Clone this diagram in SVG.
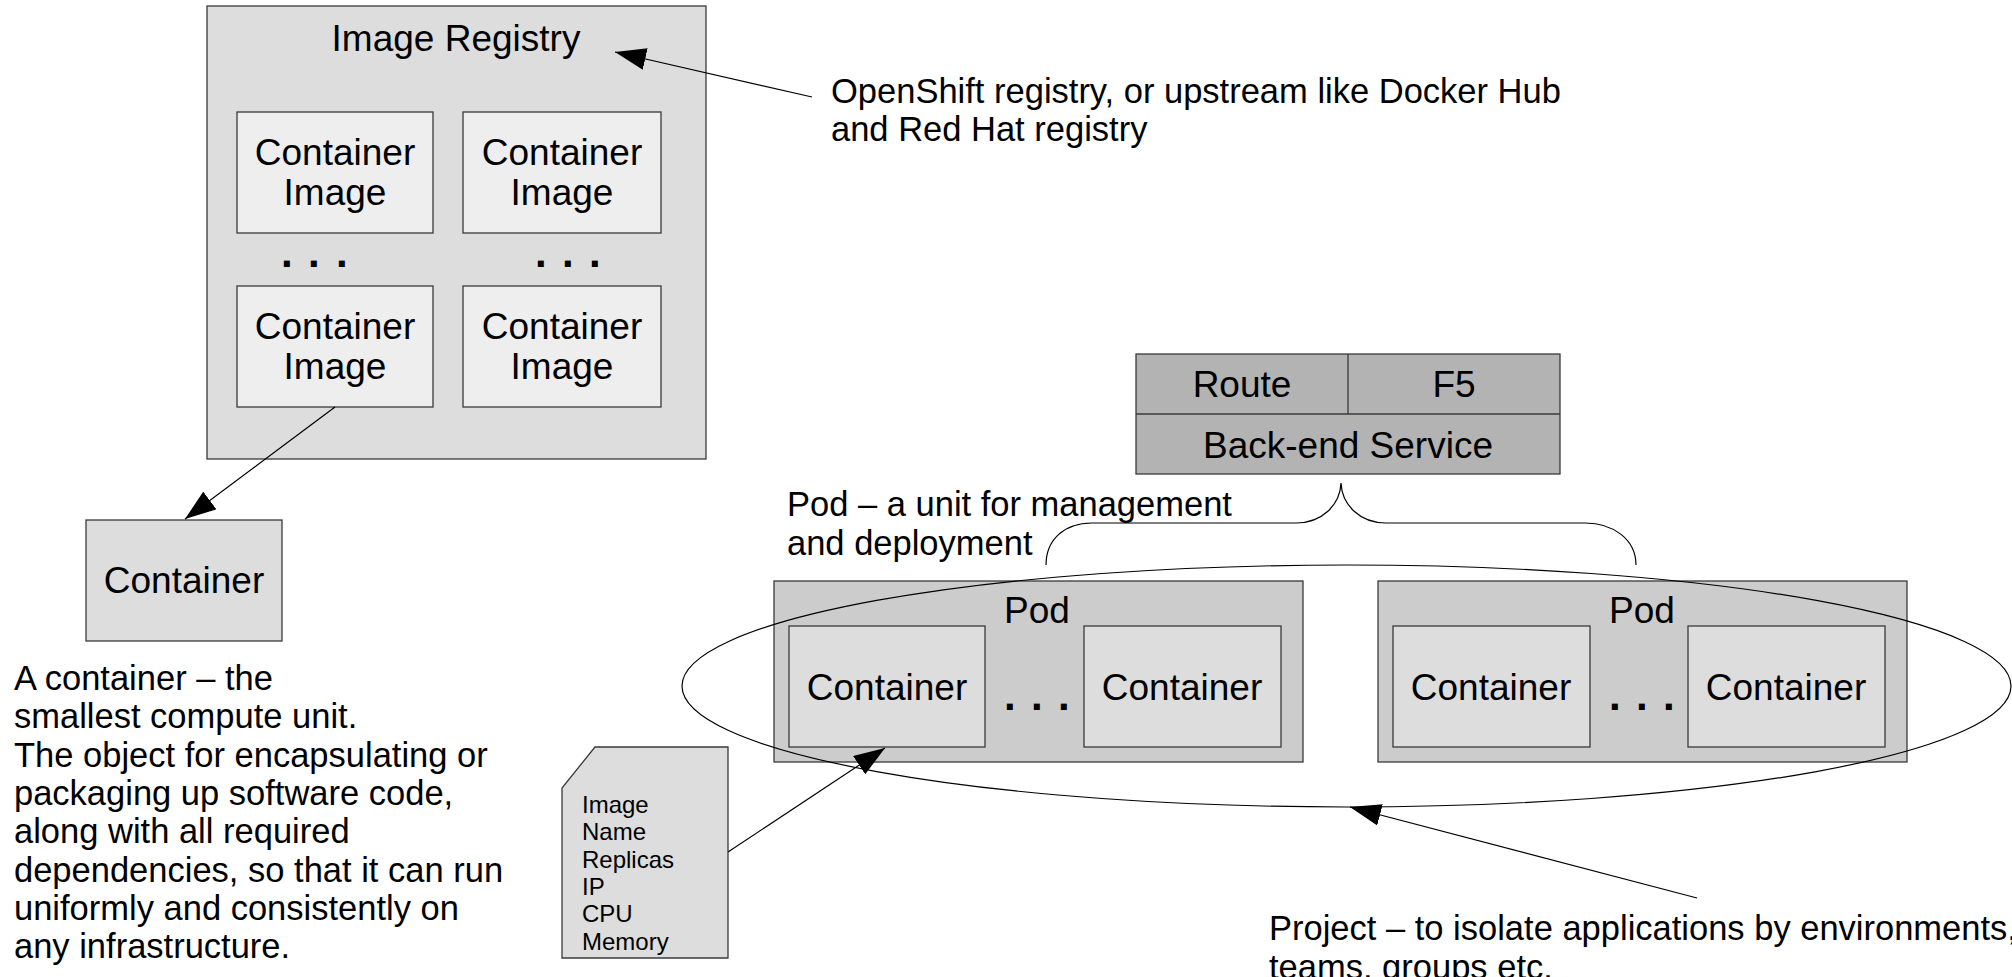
<svg xmlns="http://www.w3.org/2000/svg" width="2012" height="977" viewBox="0 0 2012 977">
  <style>
    text { font-family: "Liberation Sans", Arial, sans-serif; fill: #000; }
    .lbl { font-size: 37px; text-anchor: middle; }
    .desc { font-size: 34.5px; }
    .note { font-size: 24px; }
    .dots { font-size: 42px; font-weight: bold; }
    .box { stroke: #3a3a3a; stroke-width: 1.3; }
    .reg { fill: #dddddd; }
    .img { fill: #eeeeee; }
    .ctr { fill: #dddddd; }
    .pod { fill: #cccccc; }
    .svc { fill: #b3b3b3; }
    .wire { fill: none; stroke: #000; stroke-width: 1.2; }
    .arrow { marker-end: url(#head); }
  </style>
  <defs>
    <marker id="head" markerUnits="userSpaceOnUse" markerWidth="32" markerHeight="22" refX="31" refY="11" orient="auto">
      <path d="M0,0 L31,11 L0,22 z" fill="#000"/>
    </marker>
  </defs>

  <rect width="2012" height="977" fill="#ffffff"/>

  <!-- Image registry with its container images -->
  <g id="image-registry">
    <rect class="box reg" x="207" y="6" width="499" height="453"/>
    <text class="lbl" x="456" y="51">Image Registry</text>
  </g>
  <g id="container-image-1">
    <rect class="box img" x="237" y="112" width="196" height="121"/>
    <text class="lbl" x="335" y="165">Container</text>
    <text class="lbl" x="335" y="205">Image</text>
  </g>
  <g id="container-image-2">
    <rect class="box img" x="463" y="112" width="198" height="121"/>
    <text class="lbl" x="562" y="165">Container</text>
    <text class="lbl" x="562" y="205">Image</text>
  </g>
  <g id="registry-dots">
    <text class="dots" x="281 308 336" y="267">...</text>
    <text class="dots" x="535 562 589" y="267">...</text>
  </g>
  <g id="container-image-3">
    <rect class="box img" x="237" y="286" width="196" height="121"/>
    <text class="lbl" x="335" y="339">Container</text>
    <text class="lbl" x="335" y="379">Image</text>
  </g>
  <g id="container-image-4">
    <rect class="box img" x="463" y="286" width="198" height="121"/>
    <text class="lbl" x="562" y="339">Container</text>
    <text class="lbl" x="562" y="379">Image</text>
  </g>

  <g id="registry-note">
    <text class="desc" x="831" y="103">OpenShift registry, or upstream like Docker Hub</text>
    <text class="desc" x="831" y="141">and Red Hat registry</text>
  </g>

  <!-- Single container and its description -->
  <g id="container">
    <rect class="box ctr" x="86" y="520" width="196" height="121"/>
    <text class="lbl" x="184" y="593">Container</text>
  </g>
  <g id="container-note">
    <text class="desc" x="14" y="690">A container – the</text>
    <text class="desc" x="14" y="728">smallest compute unit.</text>
    <text class="desc" x="14" y="767">The object for encapsulating or</text>
    <text class="desc" x="14" y="805">packaging up software code,</text>
    <text class="desc" x="14" y="843">along with all required</text>
    <text class="desc" x="14" y="882">dependencies, so that it can run</text>
    <text class="desc" x="14" y="920">uniformly and consistently on</text>
    <text class="desc" x="14" y="958">any infrastructure.</text>
  </g>

  <!-- Pod spec sheet -->
  <g id="pod-spec">
    <path class="box ctr" d="M595,747 L728,747 L728,958 L562,958 L562,788 Z"/>
    <text class="note" x="582" y="813">Image</text>
    <text class="note" x="582" y="840">Name</text>
    <text class="note" x="582" y="868">Replicas</text>
    <text class="note" x="582" y="895">IP</text>
    <text class="note" x="582" y="922">CPU</text>
    <text class="note" x="582" y="950">Memory</text>
  </g>

  <!-- Route / F5 in front of the back-end service -->
  <g id="service">
    <rect class="box svc" x="1136" y="354" width="424" height="120"/>
    <line class="box" x1="1136" y1="414" x2="1560" y2="414"/>
    <line class="box" x1="1348" y1="354" x2="1348" y2="414"/>
    <text class="lbl" x="1242" y="397">Route</text>
    <text class="lbl" x="1454" y="397">F5</text>
    <text class="lbl" x="1348" y="458">Back-end Service</text>
  </g>

  <g id="pod-note">
    <text class="desc" x="787" y="516">Pod – a unit for management</text>
    <text class="desc" x="787" y="555">and deployment</text>
  </g>

  <!-- Pods -->
  <g id="pod-1">
    <rect class="box pod" x="774" y="581" width="529" height="181"/>
    <text class="lbl" x="1037" y="623">Pod</text>
    <rect class="box ctr" x="789" y="626" width="196" height="121"/>
    <text class="lbl" x="887" y="700">Container</text>
    <text class="dots" x="1004 1031 1058" y="710">...</text>
    <rect class="box ctr" x="1084" y="626" width="197" height="121"/>
    <text class="lbl" x="1182" y="700">Container</text>
  </g>
  <g id="pod-2">
    <rect class="box pod" x="1378" y="581" width="529" height="181"/>
    <text class="lbl" x="1642" y="623">Pod</text>
    <rect class="box ctr" x="1393" y="626" width="197" height="121"/>
    <text class="lbl" x="1491" y="700">Container</text>
    <text class="dots" x="1609 1636 1663" y="710">...</text>
    <rect class="box ctr" x="1688" y="626" width="197" height="121"/>
    <text class="lbl" x="1786" y="700">Container</text>
  </g>

  <g id="project-note">
    <text class="desc" x="1269" y="940">Project – to isolate applications by environments,</text>
    <text class="desc" x="1269" y="979">teams, groups etc.</text>
  </g>

  <!-- Connectors -->
  <g id="connectors">
    <line class="wire arrow" x1="812" y1="97" x2="615" y2="52"/>
    <line class="wire arrow" x1="335" y1="407" x2="185" y2="519"/>
    <line class="wire arrow" x1="728" y1="852" x2="885" y2="748"/>
    <ellipse class="wire" cx="1346.5" cy="686" rx="664.5" ry="121"/>
    <path class="wire" d="M1046,565 C1046,540 1064,523 1092,523 L1296,523 C1322,523 1340,505 1341,483 C1342,505 1360,523 1386,523 L1585,523 C1614,523 1636,540 1636,565"/>
    <line class="wire arrow" x1="1697" y1="898" x2="1350" y2="807"/>
  </g>
</svg>
